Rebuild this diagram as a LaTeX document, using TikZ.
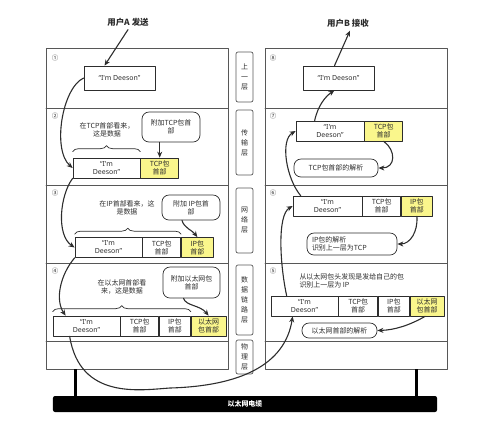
\documentclass[tikz,border=0pt]{standalone}
\usepackage{fontspec}
\setmainfont{Noto Sans CJK SC}
\newfontfamily\latinfont{Noto Sans}
\newcommand{\deeson}{\latinfont “I'm Deeson”}
\newcommand{\deesontwo}{\latinfont “I'm\\\latinfont Deeson”}
\usetikzlibrary{calc,decorations.pathreplacing,arrows.meta}
\definecolor{hdryellow}{RGB}{250,246,140}
\definecolor{ink}{RGB}{45,45,45}
\begin{document}
\begin{tikzpicture}[x=1bp,y=-1bp,font=\fontsize{7}{8}\selectfont, line join=round, line cap=round, >={Stealth[length=6bp,width=5bp]},
  every node/.style={text=ink},
  panel/.style={draw=ink!80, line width=.8bp},
  cell/.style={draw=ink, line width=.7bp, minimum height=20bp, inner sep=0pt, align=center},
  hdr/.style={cell, fill=hdryellow},
  bubble/.style={draw=ink, line width=.7bp, rounded corners=7bp, align=center, inner sep=0pt},
  layer/.style={draw=ink!80, line width=.7bp, rounded corners=2bp, minimum width=17bp, inner sep=0pt, align=center, font=\fontsize{7}{10}\selectfont},
  flow/.style={->, draw=ink, line width=1.1bp},
  brc/.style={draw=ink, line width=.7bp, decorate, decoration={brace, amplitude=6bp}},
  num/.style={font=\fontsize{6.5}{7}\selectfont}]
\useasboundingbox (0,0) rectangle (499,432);
% panels
\draw[panel] (46,48) rectangle (228,369) (265,48) rectangle (447,369);
\foreach\y in {108,185,263,341}{\draw[panel] (46,\y)--(228,\y) (265,\y)--(447,\y);}
\foreach\t/\y/\k in {①/58/1,②/116/2,③/193/3,④/271/4}{\node[num] (nl\k) at (55,\y){\t};}
\foreach\t/\y/\k in {⑧/58/8,⑦/116/7,⑥/193/6,⑤/271/5}{\node[num] (nr\k) at (273,\y){\t};}
% layer names
\node[layer, minimum height=50bp] (l1) at (244.5,77) {上\\一\\层};
\node[layer, minimum height=65bp] (l2) at (244.5,142.5) {传\\输\\层};
\node[layer, minimum height=65bp] (l3) at (244.5,220.5) {网\\络\\层};
\node[layer, minimum height=70bp] (l4) at (244.5,300) {数\\据\\链\\路\\层};
\node[layer, minimum height=34bp] (l5) at (244.5,357) {物\\理\\层};
% cable
\node[fill=black, rounded corners=2bp, minimum width=384bp, minimum height=16bp, text=white, font=\bfseries\fontsize{7}{8}\selectfont] (cable) at (245,404) {以太网电缆};
\draw[line width=3bp, line cap=butt] (75,369)--(75,396) (416,369)--(416,396);
% titles
\node[font=\bfseries\fontsize{8.5}{9}\selectfont] (tA) at (128,22) {用户A 发送};
\node[font=\bfseries\fontsize{8.5}{9}\selectfont] (tB) at (348,23) {用户B 接收};
% sender
\node[cell, minimum width=71bp, minimum height=24bp] (box1) at (119.5,78) {\deeson};
\node[cell, minimum width=67bp] (p2d) at (106.5,168) {\deesontwo};
\node[hdr, minimum width=38bp, anchor=west] (p2t) at (p2d.east) {TCP包\\首部};
\node[cell, minimum width=67bp] (p3d) at (108.5,247.5) {\deesontwo};
\node[cell, minimum width=38bp, anchor=west] (p3t) at (p3d.east) {TCP包\\首部};
\node[hdr, minimum width=32bp, anchor=west] (p3i) at (p3t.east) {IP包\\首部};
\node[cell, minimum width=67bp] (p4d) at (86.5,326) {\deesontwo};
\node[cell, minimum width=38bp, anchor=west] (p4t) at (p4d.east) {TCP包\\首部};
\node[cell, minimum width=31bp, anchor=west] (p4i) at (p4t.east) {IP包\\首部};
\node[hdr, minimum width=35bp, anchor=west] (p4e) at (p4i.east) {以太网\\包首部};
\node[bubble, minimum width=58bp, minimum height=30bp] (b2) at (171,127) {附加TCP包首\\部};
\node[bubble, minimum width=58bp, minimum height=25bp] (b3) at (191,207.5) {附加 IP包首\\部};
\node[bubble, minimum width=57bp, minimum height=31bp] (b4) at (191.5,282.5) {附加以太网包\\首部};
\node[align=center] (n2) at (107,130) {在TCP首部看来，\\这是数据};
\node[align=center] (n3) at (127,208) {在IP首部看来，这\\是数据};
\node[align=center] (n4) at (122,287) {在以太网首部看\\来，这是数据};
\draw[brc] ($(p2d.north west)+(0,-6)$)--($(p2d.north east)+(0,-6)$);
\draw[brc] ($(p3d.north west)+(0,-3)$)--($(p3t.north east)+(0,-3)$);
\draw[brc] ($(p4d.north west)+(0,-4)$)--($(p4i.north east)+(0,-4)$);
% receiver
\node[cell, minimum width=71bp, minimum height=24bp] (box8) at (338.5,78) {\deeson};
\node[cell, minimum width=68bp] (p7d) at (330,131) {\deesontwo};
\node[hdr, minimum width=38bp, anchor=west] (p7t) at (p7d.east) {TCP包\\首部};
\node[cell, minimum width=69bp] (p6d) at (327.5,206) {\deesontwo};
\node[cell, minimum width=38bp, anchor=west] (p6t) at (p6d.east) {TCP包\\首部};
\node[hdr, minimum width=31bp, anchor=west] (p6i) at (p6t.east) {IP包\\首部};
\node[cell, minimum width=67bp] (p5d) at (304.5,306) {\deesontwo};
\node[cell, minimum width=39bp, anchor=west] (p5t) at (p5d.east) {TCP包\\首部};
\node[cell, minimum width=31bp, anchor=west] (p5i) at (p5t.east) {IP包\\首部};
\node[hdr, minimum width=34bp, anchor=west] (p5e) at (p5i.east) {以太网\\包首部};
\node[bubble, minimum width=84bp, minimum height=18bp] (r7) at (336,168) {TCP包首部的解析};
\node[bubble, minimum width=90bp, minimum height=22bp, text width=80bp, inner xsep=5bp, align=left] (r6) at (352,244) {IP包的解析\\识别上一层为TCP};
\node[bubble, minimum width=75bp, minimum height=15bp] (r5) at (339.5,330.5) {以太网首部的解析};
\node[align=left, anchor=west] (n5) at (296,281) {从以太网包头发现是发给自己的包\\识别上一层为 IP};
% flow
\draw[flow] (tA.south)--($(box1.north)+(-15,0)$);
\draw[flow] (box1.west) .. controls (62,88) and (52,150) .. (p2d.west);
\draw[flow] (p2d.south west) .. controls (60,195) and (56,235) .. (p3d.west);
\draw[flow] (p3d.south west) .. controls (60,275) and (55,300) .. ($(p4d.north west)+(13,0)$);
\draw[flow] ($(p4d.south west)+(17,0)$) .. controls (80,400) and (140,390) .. (170,388)
  .. controls (240,386) and (285,365) .. ($(p5d.south west)+(22,0)$);
\draw[flow] (b2.south -| p2t.north)--(p2t.north);
\draw[flow] ($(b3.south)+(-9,0)$) .. controls (184,228) and (192,230) .. (p3i.north);
\draw[flow] ($(b4.south)+(-8,0)$) .. controls (186,306) and (200,305) .. (p4e.north);
\draw[flow] ($(p5d.north west)+(16,0)$) .. controls (280,265) and (277,215) .. (p6d.west);
\draw[flow] ($(p6d.north west)+(8,0)$) .. controls (286,178) and (280,140) .. (p7d.west);
\draw[flow] ($(p7d.north west)+(19,0)$) .. controls (318,105) and (326,96) .. ($(box8.south)+(-4,0)$);
\draw[flow] ($(box8.north)+(-4,0)$)--($(tB.south)+(2,0)$);
\draw[flow] (p7t.south) .. controls (396,150) and (396,168) .. (r7.east);
\draw[flow] (p6i.south) .. controls (418,232) and (410,244) .. (r6.east);
\draw[flow] ($(p5e.south)+(-2,0)$) .. controls (410,325) and (395,330) .. (r5.east);
\end{tikzpicture}
\end{document}
